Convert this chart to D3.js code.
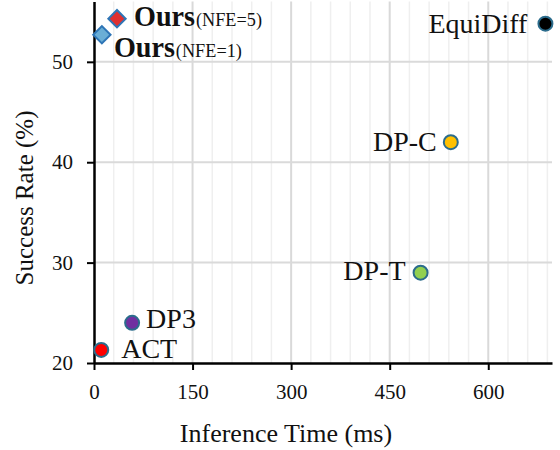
<!DOCTYPE html>
<html><head><meta charset="utf-8">
<script src="https://cdn.jsdelivr.net/npm/d3@7"></script>
<style>body{margin:0;background:#fff}svg{display:block}text{font-family:"Liberation Serif","Times New Roman",serif;fill:#111}</style>
</head><body>
<svg id="c" width="560" height="450"></svg>
<script>
const methods = ["ACT", "DP3", "DP-T", "DP-C", "EquiDiff"];
const methodTime = [11, 58, 497, 543, 687];
const methodSuccess = [21.3, 24.0, 29.0, 42.0, 53.8];
const methodColor = ["#ff0000", "#7030a0", "#92d050", "#ffc000", "#000000"];

const oursNames = ["Ours", "Ours"];
const oursNfe = ["(NFE=5)", "(NFE=1)"];
const oursTime = [35, 12];
const oursSuccess = [54.3, 52.7];
const oursColor = ["#e03030", "#6aaed6"];

const xTicks = [0, 150, 300, 450, 600];
const yTicks = [20, 30, 40, 50];
const xTitle = "Inference Time (ms)";
const yTitle = "Success Rate (%)";

// label offsets (dx, dy, anchor)
const methodLabelPos = [[20, 8, "start"], [14, 5, "start"], [-15, 7, "end"], [-14, 9, "end"], [-18, 9, "end"]];
const oursLabelPos = [[17, 7], [12, 22]];

const svg = d3.select("#c");
const x = d3.scaleLinear().domain([0, 697]).range([94, 552]);
const y = d3.scaleLinear().domain([20, 56]).range([363, 1.6]);

// grid
const g = svg.append("g");
const minor = d3.range(30, 697, 30);
g.selectAll(".vg").data(minor).join("line")
  .attr("x1", d => x(d)).attr("x2", d => x(d)).attr("y1", y(56)).attr("y2", y(20))
  .attr("stroke", d => d % 150 === 0 ? "#d9d9d9" : "#efefef")
  .attr("stroke-width", d => d % 150 === 0 ? 2 : 1.5);
g.selectAll(".hg").data(yTicks.filter(d => d > 20)).join("line")
  .attr("x1", x(0)).attr("x2", x(697)).attr("y1", d => y(d)).attr("y2", d => y(d))
  .attr("stroke", "#dadada").attr("stroke-width", 2);

// axes
const xa = svg.append("g").attr("transform", `translate(0,${y(20)})`)
  .call(d3.axisBottom(x).tickValues(xTicks).tickSize(7).tickSizeOuter(0).tickPadding(14));
const ya = svg.append("g").attr("transform", `translate(${x(0)},0)`)
  .call(d3.axisLeft(y).tickValues(yTicks).tickSize(7).tickSizeOuter(0).tickPadding(14));
[xa, ya].forEach(a => {
  a.attr("font-family", null).attr("font-size", null);
  a.select(".domain").attr("stroke", "#000").attr("stroke-width", 2.5);
  a.selectAll(".tick line").attr("stroke", "#000").attr("stroke-width", 2);
  a.selectAll(".tick text").attr("font-size", 21).attr("fill", "#111");
});

svg.append("text").attr("x", 286).attr("y", 442).attr("text-anchor", "middle")
  .attr("font-size", 26).text(xTitle);
svg.append("text").attr("transform", "translate(33,198) rotate(-90)").attr("text-anchor", "middle")
  .attr("font-size", 25).text(yTitle);

// method points
methods.forEach((m, i) => {
  const cx = x(methodTime[i]), cy = y(methodSuccess[i]);
  svg.append("circle").attr("cx", cx).attr("cy", cy).attr("r", 7)
    .attr("fill", methodColor[i]).attr("stroke", "#2b6c8c").attr("stroke-width", 2);
  const p = methodLabelPos[i];
  svg.append("text").attr("x", cx + p[0]).attr("y", cy + p[1]).attr("text-anchor", p[2])
    .attr("font-size", 28).text(m);
});

// ours
const dia = d3.symbol().type(d3.symbolSquare).size(150);
oursNames.forEach((n, i) => {
  const cx = x(oursTime[i]), cy = y(oursSuccess[i]);
  svg.append("path").attr("d", dia()).attr("transform", `translate(${cx},${cy}) rotate(45)`)
    .attr("fill", oursColor[i]).attr("stroke", "#2e75b6").attr("stroke-width", 2);
  const lx = cx + oursLabelPos[i][0], ly = cy + oursLabelPos[i][1];
  svg.append("text").attr("x", lx).attr("y", ly)
    .attr("font-size", 29).attr("font-weight", "bold")
    .attr("textLength", 61).attr("lengthAdjust", "spacingAndGlyphs").text(n);
  svg.append("text").attr("x", lx + 62).attr("y", ly)
    .attr("font-size", 18).attr("textLength", 66).attr("lengthAdjust", "spacingAndGlyphs")
    .text(oursNfe[i]);
});
</script>
</body></html>
